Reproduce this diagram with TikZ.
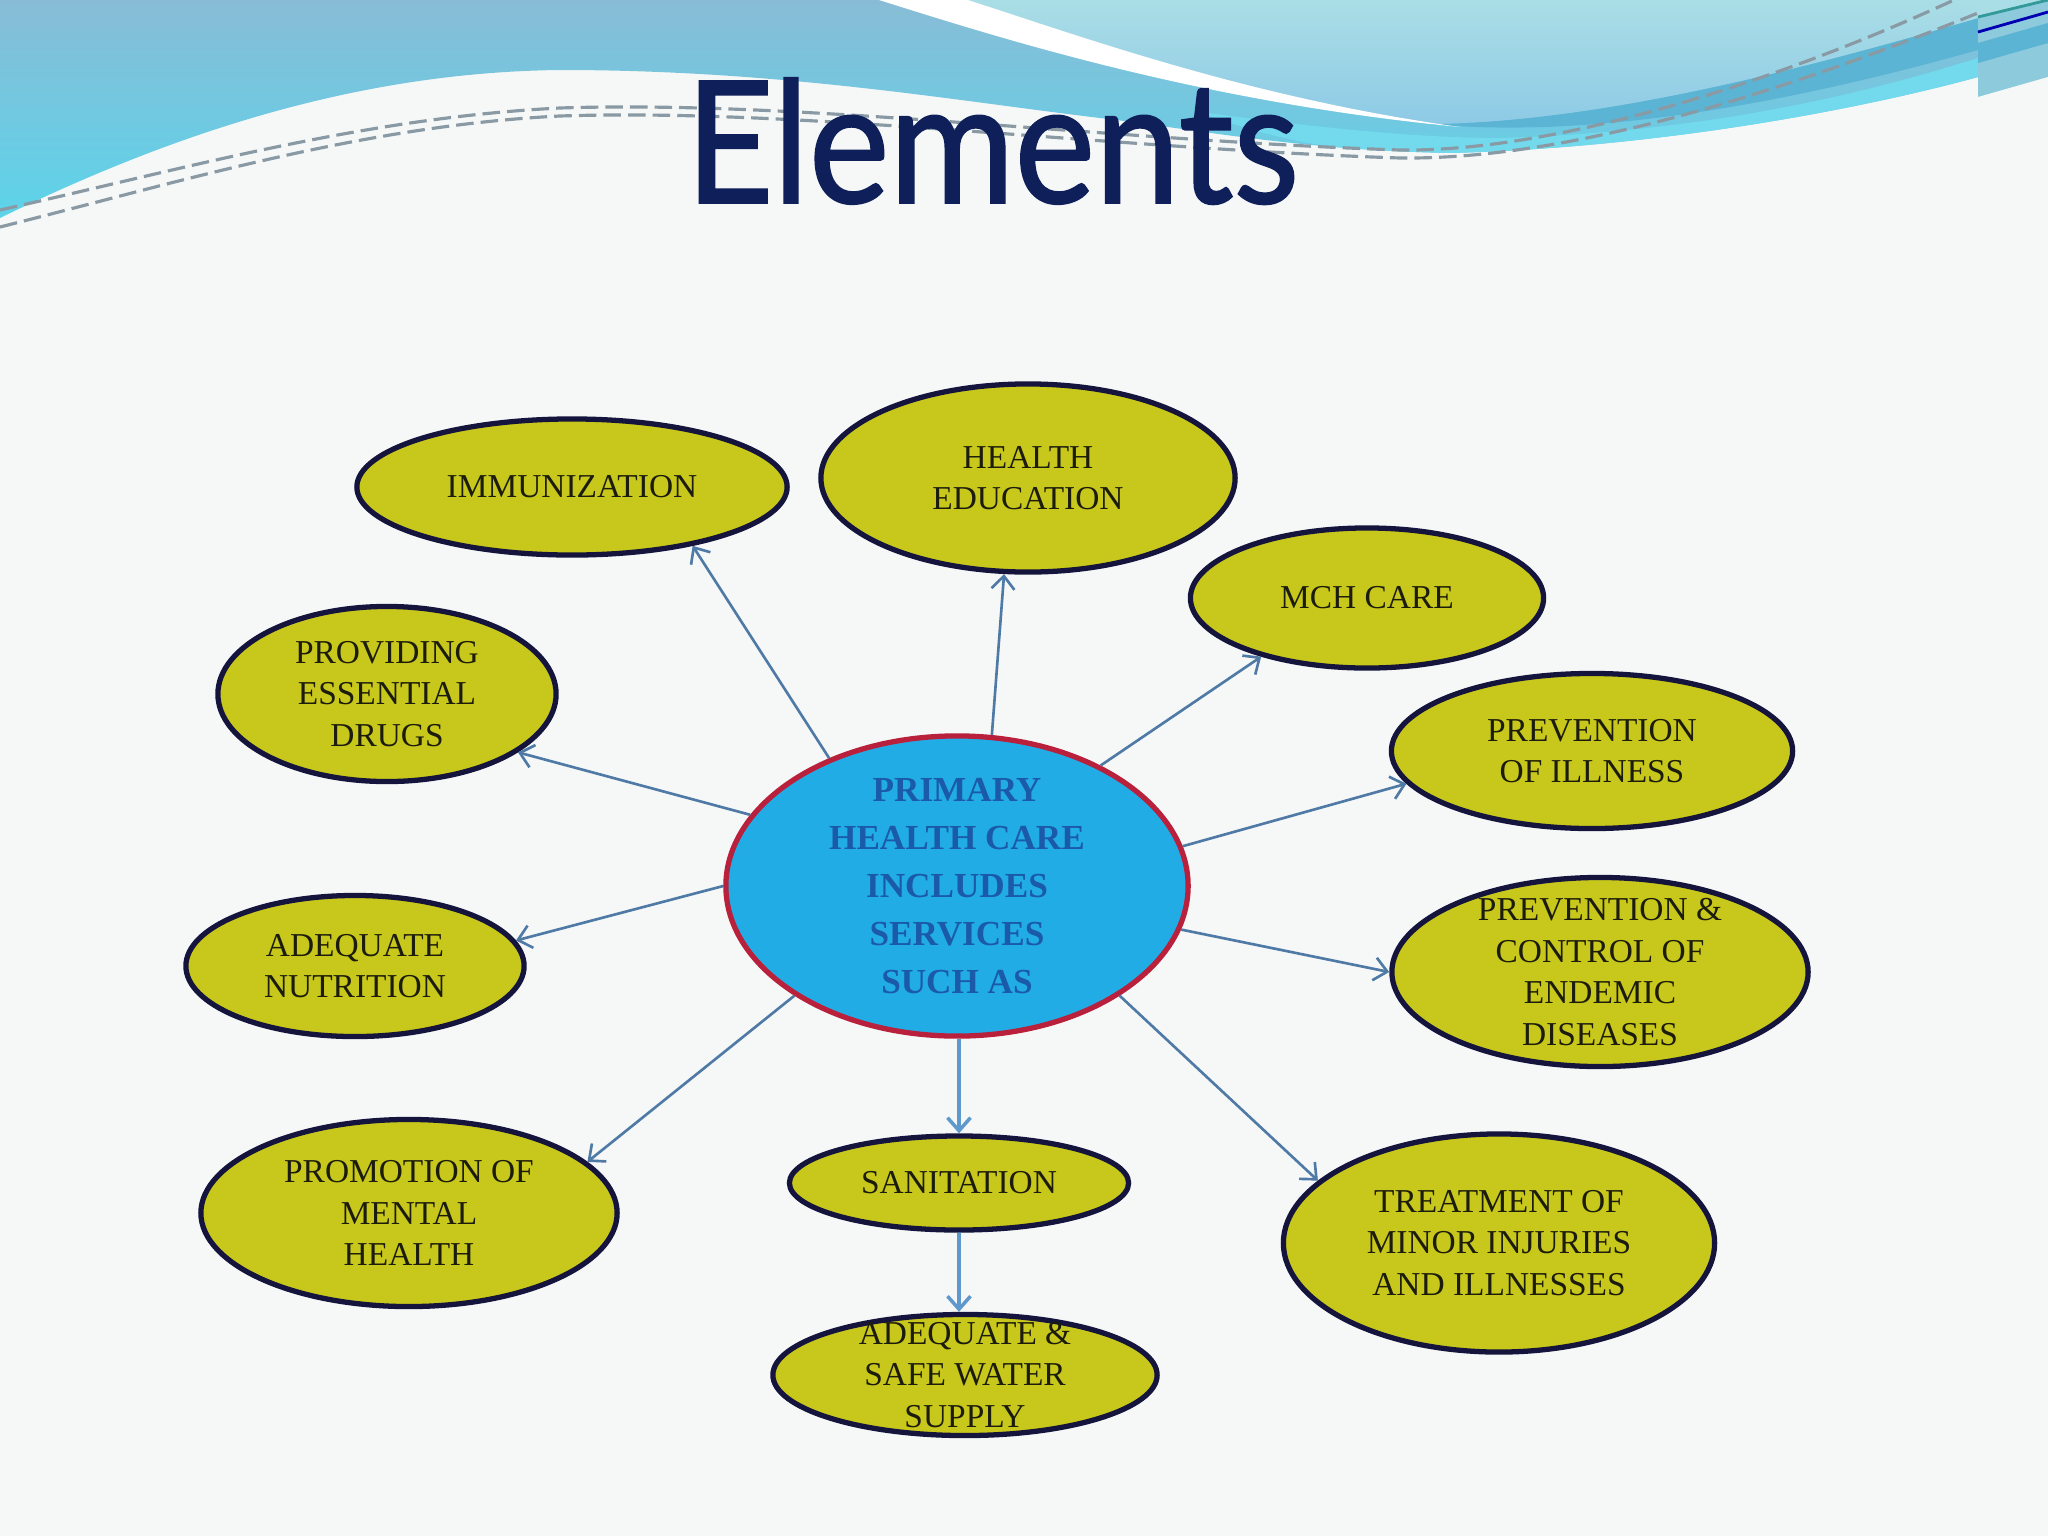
\documentclass[tikz,border=0pt]{standalone}
\usepackage{graphicx}
\usepackage{fontspec}
\setmainfont{Liberation Serif}
\newfontfamily\titlefont{Lato}[FakeBold=1.2]
\usetikzlibrary{shapes.geometric,arrows.meta}
\definecolor{bgc}{HTML}{F6F8F8}
\definecolor{blueTop}{HTML}{88BCD6}
\definecolor{blueBot}{HTML}{5CD4EA}
\definecolor{lightTop}{HTML}{AADEE6}
\definecolor{lightBot}{HTML}{8ECAE6}
\definecolor{bandc}{HTML}{5CB4D4}
\definecolor{cyanband}{HTML}{72DAEC}
\definecolor{stripc}{HTML}{8CCADC}
\definecolor{yfill}{HTML}{C8C71C}
\definecolor{yborder}{HTML}{14143C}
\definecolor{ytextc}{HTML}{1C1C0C}
\definecolor{phcfill}{HTML}{22ACE6}
\definecolor{phcborder}{HTML}{B8203C}
\definecolor{phctext}{HTML}{1A5AA8}
\definecolor{arrowc}{HTML}{4F7AA6}
\definecolor{arrowd}{HTML}{5E98CC}
\definecolor{titlec}{HTML}{0F1F5A}
\definecolor{dashc}{HTML}{8A9AA4}
\begin{document}
\begin{tikzpicture}[x=0.01cm,y=-0.01cm,
  ybox/.style={ellipse, draw=yborder, line width=1.5pt, fill=yfill, inner sep=0pt},
  ytext/.style={font=\fontsize{9.5}{11.8}\selectfont, text=ytextc, align=center, inner sep=0pt},
  phcbox/.style={ellipse, draw=phcborder, line width=1.5pt, fill=phcfill, inner sep=0pt},
  phclabel/.style={font=\fontsize{10}{13.7}\selectfont\bfseries, text=phctext, align=center, inner sep=0pt},
  arr/.style={draw=arrowc, line width=0.75pt, -{Straight Barb[length=1.3mm,width=2.3mm]}},
  arrb/.style={arr, draw=arrowd, line width=1pt},
  dashline/.style={draw=dashc, line width=0.9pt, dash pattern=on 5pt off 2pt}
]
\useasboundingbox (0,0) rectangle (2048,1536);
\fill[bgc] (0,0) rectangle (2048,1536);

% banner: main blue region
\shade[top color=blueTop, bottom color=blueBot] (0,0) -- (2048,0) -- (2048,77) -- (1978,77)
  .. controls (1850,112) and (1650,148) .. (1450,153)
  .. controls (1300,150) and (1200,130) .. (1100,118)
  .. controls (950,100) and (780,70) .. (560,70)
  .. controls (380,72) and (200,120) .. (0,218) -- cycle;
\begin{scope}
  \clip (0,0) -- (2048,0) -- (2048,77) -- (1978,77)
    .. controls (1850,112) and (1650,148) .. (1450,153)
    .. controls (1300,150) and (1200,130) .. (1100,118)
    .. controls (950,100) and (780,70) .. (560,70)
    .. controls (380,72) and (200,120) .. (0,218) -- cycle;
  % cyan band along the lower edge
  \fill[cyanband] (1200,112) .. controls (1320,128) and (1420,138) .. (1500,138)
    .. controls (1700,132) and (1850,98) .. (1978,58) -- (1978,80)
    .. controls (1850,115) and (1650,152) .. (1450,156)
    .. controls (1330,154) and (1260,135) .. (1200,112) -- cycle;
\end{scope}
% darker band along the lower edge of the light region
\fill[bandc] (1430,124) .. controls (1600,122) and (1800,70) .. (1978,18) -- (1978,50)
  .. controls (1800,100) and (1600,140) .. (1430,124) -- cycle;
% light top-right region
\shade[top color=lightTop, bottom color=lightBot] (968,0)
  .. controls (1080,36) and (1250,98) .. (1430,124)
  .. controls (1600,122) and (1800,70) .. (1978,18) -- (1978,0) -- cycle;
% white streak
\fill[white] (879,0) .. controls (1000,38) and (1200,102) .. (1460,127)
  .. controls (1250,98) and (1080,36) .. (968,0) -- cycle;
% dashed lines
\draw[dashline] (0,210) .. controls (180,170) and (360,118) .. (560,108)
  .. controls (800,100) and (1100,140) .. (1400,150)
  .. controls (1560,152) and (1780,80) .. (1954,0);
\draw[dashline] (0,227) .. controls (180,182) and (360,126) .. (560,116)
  .. controls (800,108) and (1100,148) .. (1400,158)
  .. controls (1580,160) and (1800,85) .. (1978,13);
% right strip
\fill[stripc] (1978,0) rectangle (2048,97);
\fill[lightTop] (1978,0) -- (2048,0) -- (1978,17) -- cycle;
\fill[bandc] (1978,43) -- (2048,23) -- (2048,43) -- (1978,63) -- cycle;
\fill[bgc] (1978,97) -- (2048,77) -- (2048,97) -- cycle;
\draw[teal!80, line width=0.8pt] (1978,17) -- (2048,0);
\draw[blue!70!black, line width=0.8pt] (1978,32) -- (2048,12);

% title
\node[anchor=south west, inner sep=0pt, text=titlec] (title) at (685,205)
  {\resizebox{6.13cm}{1.25cm}{\titlefont Elements}};

% nodes
\node[phcbox, minimum width=4.62cm, minimum height=3.0cm,
  label={[phclabel]center:PRIMARY\\HEALTH CARE\\INCLUDES\\SERVICES\\SUCH AS}] (phc) at (957,886) {};
\node[ybox, minimum width=4.30cm, minimum height=1.36cm,
  label={[ytext]center:IMMUNIZATION}] (imm) at (572,487) {};
\node[ybox, minimum width=4.14cm, minimum height=1.88cm,
  label={[ytext]center:HEALTH\\EDUCATION}] (hed) at (1028,478) {};
\node[ybox, minimum width=3.53cm, minimum height=1.40cm,
  label={[ytext]center:MCH CARE}] (mch) at (1367,598) {};
\node[ybox, minimum width=3.38cm, minimum height=1.75cm,
  label={[ytext]center:PROVIDING\\ESSENTIAL\\DRUGS}] (drugs) at (387,694) {};
\node[ybox, minimum width=4.01cm, minimum height=1.55cm,
  label={[ytext]center:PREVENTION\\OF ILLNESS}] (prev) at (1592,751) {};
\node[ybox, minimum width=3.38cm, minimum height=1.41cm,
  label={[ytext]center:ADEQUATE\\NUTRITION}] (nutr) at (355,966) {};
\node[ybox, minimum width=4.16cm, minimum height=1.89cm,
  label={[ytext]center:PREVENTION \&\\CONTROL OF\\ENDEMIC\\DISEASES}] (endemic) at (1600,972) {};
\node[ybox, minimum width=4.16cm, minimum height=1.87cm,
  label={[ytext]center:PROMOTION OF\\MENTAL\\HEALTH}] (mental) at (409,1213) {};
\node[ybox, minimum width=3.39cm, minimum height=0.94cm,
  label={[ytext]center:SANITATION}] (san) at (959,1183) {};
\node[ybox, minimum width=4.31cm, minimum height=2.18cm,
  label={[ytext]center:TREATMENT OF\\MINOR INJURIES\\AND ILLNESSES}] (treat) at (1499,1243) {};
\node[ybox, minimum width=3.84cm, minimum height=1.21cm,
  label={[ytext]center:ADEQUATE \&\\SAFE WATER\\SUPPLY}] (water) at (965,1375) {};

% connectors
\draw[arr] (phc.135.3) -- (imm.-26.8);
\draw[arr] (phc.77.4) -- (hed.-104.2);
\draw[arr] (phc.40.3) -- (mch.209.7);
\draw[arr] (phc.161.5) -- (drugs.-24.2);
\draw[arr] (phc.10.6) -- (prev.190);
\draw[arr] (phc.180.6) -- (nutr.9.6);
\draw[arr] (phc.-11.1) -- (endemic.180.7);
\draw[arr] (phc.214.2) -- (mental.16.5);
\draw[arr] (phc.-34) -- (treat.161.8);
\draw[arrb] (phc.south -| san.north) -- (san.north);
\draw[arrb] (san.south) -- (san.south |- water.north);
\end{tikzpicture}
\end{document}
